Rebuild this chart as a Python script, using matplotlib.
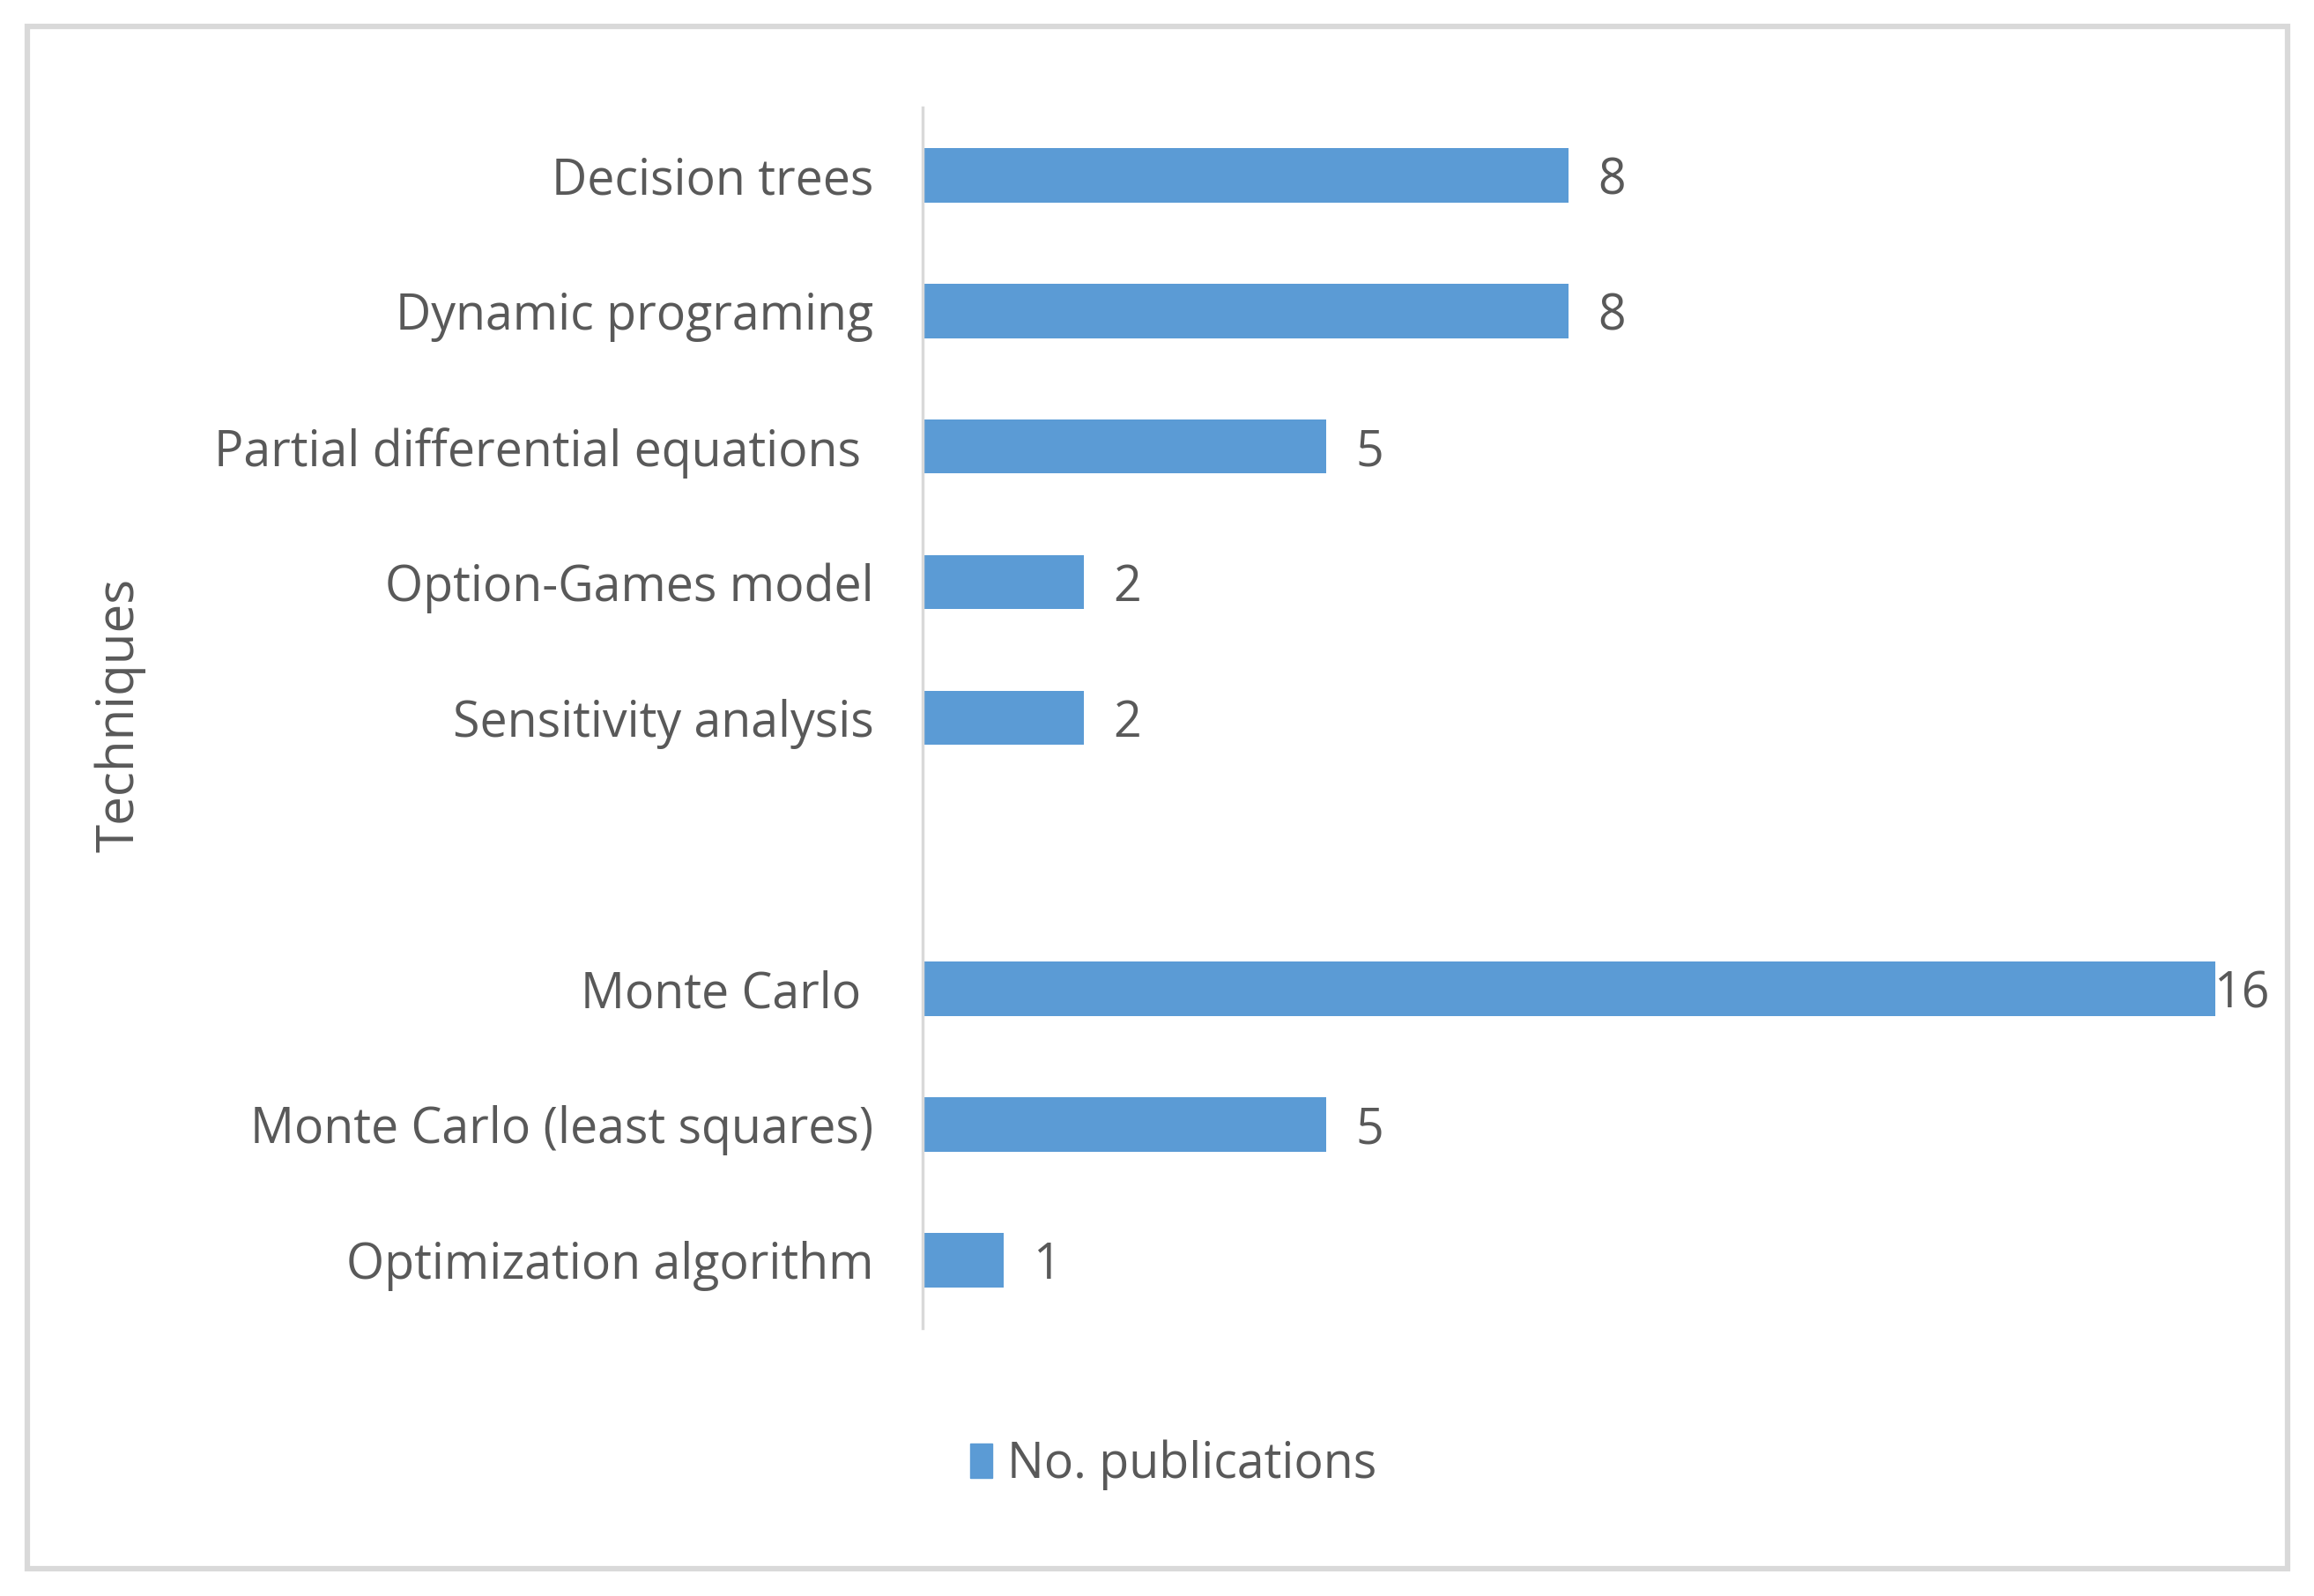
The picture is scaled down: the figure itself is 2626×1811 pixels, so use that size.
import matplotlib.pyplot as plt
from matplotlib.patches import Rectangle, Patch

# data (top to bottom), one empty slot between the two groups
techniques = ['Decision trees', 'Dynamic programing', 'Partial differential equations ',
              'Option-Games model', 'Sensitivity analysis', '',
              'Monte Carlo ', 'Monte Carlo (least squares)', 'Optimization algorithm']
publications = [8, 8, 5, 2, 2, None, 16, 5, 1]

blue = '#5B9BD5'
grey_txt = '#595959'
grey_line = '#D9D9D9'

plt.rcParams['font.family'] = ['Open Sans', 'DejaVu Sans']

fig = plt.figure(figsize=(26.26, 18.11), dpi=100)
fig.patches.append(Rectangle((0.0118, 0.0171), 0.9768, 0.9663, transform=fig.transFigure,
                             fill=False, edgecolor=grey_line, linewidth=4.5))

ax = fig.add_axes([0.3987, 0.168, 0.583, 0.7646])

ypos = list(range(len(techniques)))
vals = [v if v is not None else 0 for v in publications]
ax.barh(ypos, vals, height=0.4, color=blue, label='No. publications')
ax.set_ylim(len(techniques) - 0.5, -0.5)
ax.set_xlim(0, 16.7)

vmax = max(vals)
for y, v in zip(ypos, publications):
    if v is None:
        continue
    off = 24 if v < vmax else -1
    ax.annotate(str(v), (v, y), xytext=(off, 0), textcoords='offset points',
                ha='left', va='center_baseline', fontsize=40, color=grey_txt)

ax.set_yticks(ypos)
ax.set_yticklabels(techniques, fontsize=40, color=grey_txt)
ax.tick_params(axis='y', length=0, pad=40)
ax.set_xticks([])
for s in ['top', 'right', 'bottom']:
    ax.spines[s].set_visible(False)
ax.spines['left'].set_color(grey_line)
ax.spines['left'].set_linewidth(2.5)

fig.text(0.052, 0.552, 'Techniques', rotation=90, ha='center', va='center',
         fontsize=42, color=grey_txt)

fig.legend(handles=[Patch(color=blue, label='No. publications')],
           loc='center', bbox_to_anchor=(0.507, 0.082), frameon=False,
           fontsize=40, labelcolor=grey_txt, handlelength=0.45, handleheight=0.7,
           handletextpad=0.3)

fig.savefig('out.png', dpi=100, facecolor='white')
